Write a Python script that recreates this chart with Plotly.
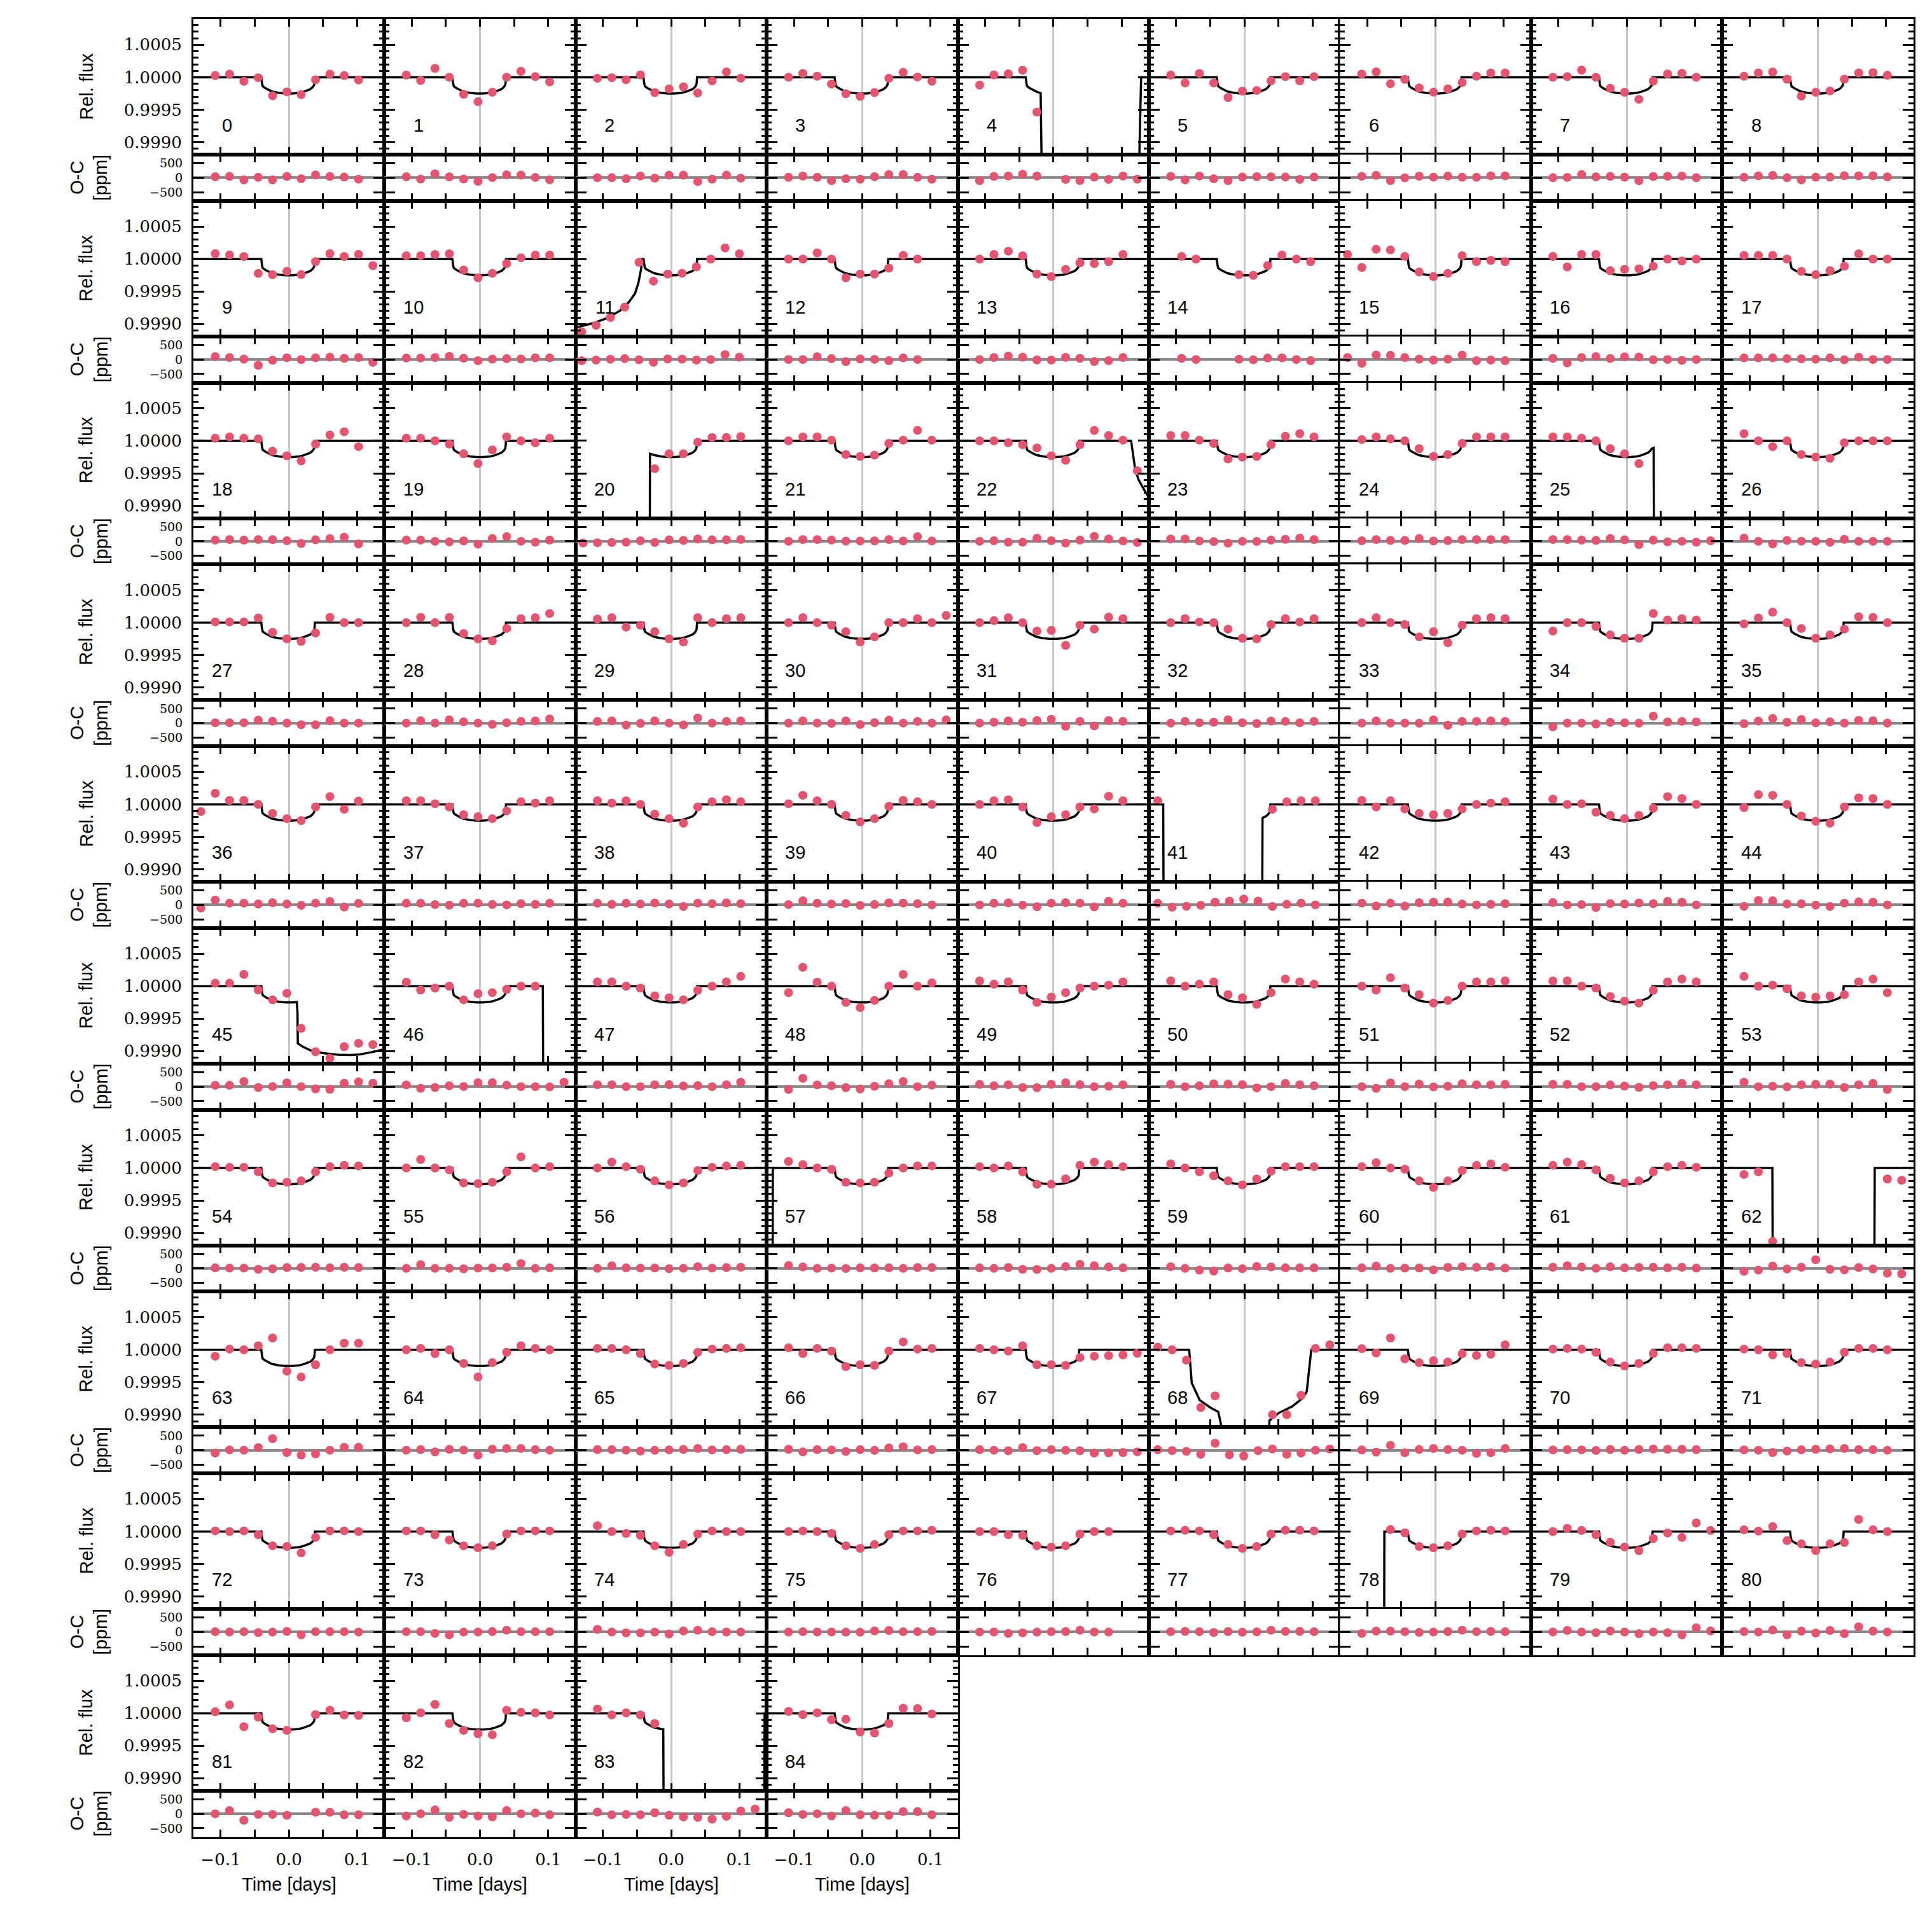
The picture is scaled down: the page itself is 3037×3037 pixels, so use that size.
import plotly.graph_objects as go

W = H = 3037
N_COLS = 9
PAGE_MARGIN = 8  # body margin of the html page shifts the figure

# ---- binned light-curve data (ppm relative to 1.0), 30-min bins ----
BIN_DT = 0.021
DEFAULT_START = -0.108
BIN_START = {11: -0.131, 14: -0.092, 15: -0.129, 20: -0.129, 36: -0.129,
             41: -0.127, 68: -0.127}

N = None
FLUX_PPM = [
    [26, 49, -62, -7, -284, -225, -268, -39, 49, 26, -42],
    [33, -49, 137, 0, -262, -376, -230, 0, 92, 10, -72],
    [-16, -7, -39, 36, -235, -180, -147, -242, -56, 82, -16],
    [0, 59, 16, -105, -252, -294, -235, -16, 75, 3, -62],
    [-121, 36, 52, 108, -536, N, N, N, N, N, N, N],
    [33, -88, 59, -88, -311, -213, -203, -56, 10, -56, 10],
    [49, 82, -100, -33, -164, -229, -180, -82, 16, 65, 65],
    [0, 10, 110, 0, -170, -230, -340, -60, 50, 60, 0],
    [16, 65, 80, -30, -290, -230, -210, -30, 65, 70, 30],
    # row 1
    [82, 62, 39, -222, -240, -190, -239, -40, 82, 39, 72, -101],
    [50, 50, 70, 80, -170, -290, -220, -70, 20, 60, 60],
    [-1120, -1020, -900, -740, -50, -340, -230, -220, -120, 0, 170, 80],
    [0, 0, 95, 0, -290, -230, -230, -140, 55, 0],
    [0, 70, 120, 50, -230, -270, -160, -60, -70, -40, 70],
    [40, 0, N, N, -240, -250, -100, 60, 0, -40],
    [70, -130, 150, 140, 40, -200, -270, -220, 50, -40, -20, -40],
    [40, -120, 70, 70, -180, -160, -150, -110, 0, -30, 0],
    [56, 56, 56, 0, -190, -240, -180, -110, 80, 0, 0],
    # row 2
    [40, 60, 40, 30, -160, -230, -310, -50, 90, 140, -90],
    [40, 40, 0, -50, -200, -350, -140, 60, 0, -30, 40],
    [N, N, N, N, N, -430, -200, -200, -20, 50, 50, 65],
    [0, 60, 60, 10, -210, -240, -220, -40, 10, 160, 10],
    [0, 0, -30, -60, -110, -230, -300, -60, 160, 80, 10, -460],
    [80, 80, 10, -40, -280, -250, -240, -60, 70, 110, 60],
    [20, 60, 30, 0, -120, -240, -210, -40, 60, 60, 60],
    [60, 60, 40, 0, -120, -200, -350, N, N, N, N, N],
    [110, 0, -90, 0, -210, -250, -270, -30, 0, 0, 0],
    # row 3
    [10, 10, 10, 70, -150, -250, -290, -160, 80, 0, 0],
    [0, 80, 0, 80, -170, -250, -280, -90, 60, 75, 140],
    [55, 75, -70, -40, -140, -250, -300, 75, 0, 60, 75],
    [0, 75, 0, -40, -140, -300, -220, 0, 0, 60, 0, 110],
    [0, 30, 75, 0, -130, -120, -350, -40, -100, 85, 60],
    [0, 60, 10, 0, -100, -240, -250, -30, 60, 10, 60],
    [0, 75, 0, -30, -220, -140, -310, -40, 60, 75, 60],
    [-130, 0, 0, -60, -190, -240, -240, 140, 40, 60, 40],
    [-20, 70, 160, 0, -90, -240, -190, -100, 90, 80, 0],
    # row 4
    [-110, 170, 60, 60, 0, -140, -220, -250, -40, 120, -75, 50],
    [55, 55, 10, -40, -160, -190, -220, -100, 40, 20, 55],
    [55, 20, 55, 0, -150, -220, -290, -40, 40, 70, 40],
    [10, 140, 55, 0, -170, -270, -220, -30, 60, 40, 0],
    [0, 55, 70, -40, -280, -190, -160, -40, -70, 125, 55],
    [55, N, N, N, N, N, N, N, -75, 40, 55, 55],
    [60, -40, 55, -70, -140, -160, -140, -70, 0, 20, 40],
    [80, 0, 10, -120, -170, -220, -170, -60, 120, 90, 0],
    [-50, 150, 140, 0, -180, -260, -290, -40, 100, 90, 0],
    # row 5
    [45, 45, 180, -60, -210, -110, -650, -1010, -1110, -930, -880, -900],
    [60, -60, -30, 0, -210, -115, -100, -50, 0, 0, N, N],
    [65, 65, 0, -30, -150, -180, -210, -65, 0, 65, 150],
    [-100, 290, 60, 0, -250, -330, -220, 0, 180, 0, 50],
    [80, 30, 65, -60, -250, -170, -100, -30, 0, 15, 65],
    [80, 0, 30, 65, -130, -180, -280, -100, 110, 65, 30],
    [0, -60, 130, -30, -130, -260, -220, 0, 65, 65, 80],
    [80, 80, 0, -30, -160, -230, -260, -65, 65, 110, 65],
    [150, 0, 15, -40, -150, -170, -150, -130, 65, 110, -100],
    # row 6
    [20, 10, 10, -60, -230, -220, -200, -60, 20, 40, 30],
    [0, 130, 0, -30, -230, -240, -220, -60, 170, 0, 20],
    [0, 90, 20, -20, -200, -260, -230, -40, 10, 30, 40],
    [100, 50, 0, -20, -220, -230, -220, -80, 0, 30, 30],
    [20, 0, 30, -60, -250, -250, -170, 40, 90, 50, 20],
    [60, 0, -60, -120, -200, -260, -170, -50, 20, 20, 20],
    [20, 80, 0, -20, -200, -300, -200, -40, 40, 60, 10],
    [40, 90, 50, -30, -160, -230, -200, -60, 20, 40, 10],
    [-100, -60, -1130, N, N, N, N, N, N, N, -170, -190],
    # row 7
    [-100, 10, 0, 60, 180, -330, -420, -230, 0, 100, 100],
    [0, 20, -60, 0, -210, -420, -200, -40, 60, 20, 0],
    [20, 20, 0, -60, -220, -240, -210, -40, 10, 20, 30],
    [30, -60, 20, -20, -260, -230, -240, -20, 120, 10, 20],
    [20, 0, -20, 60, -230, -230, -240, -120, -100, -90, -80, -55],
    [40, 0, -160, -890, -710, N, N, N, -1000, -1000, -700, 20, 75],
    [16, -50, 180, -140, -200, -170, -190, -62, -88, -69, 75],
    [10, 20, 10, -40, -190, -250, -210, -60, 30, 30, 20],
    [10, 0, -80, -60, -200, -220, -190, -40, 20, 20, 0],
    # row 8
    [10, 0, 10, -50, -220, -230, -330, -90, 10, 10, 0],
    [10, 10, -50, -130, -220, -250, -220, -40, 10, 10, 10],
    [90, 0, -30, -60, -220, -320, -200, -40, 10, 0, 0],
    [0, 10, 0, -30, -220, -260, -200, -50, 10, 10, 20],
    [0, 0, -50, -60, -220, -240, -220, -40, 0, 0],
    [10, 20, 10, -50, -200, -260, -230, -40, 20, 20, 10],
    [N, N, 30, -20, -230, -250, -220, -40, 10, 20, 10],
    [0, 49, 16, -49, -164, -239, -294, -108, -23, -92, 131, 16],
    [26, 7, 75, -141, -190, -294, -190, -170, 186, 26, 0],
    # row 9
    [23, 128, -206, -59, -239, -262, N, -20, 46, -26, -33],
    [-69, 7, 137, -157, -262, -314, -330, 46, 13, 7, -26],
    [65, -26, 7, -26, -157, N, N, N, N, N, N, N],
    [29, -20, 7, -98, -92, -288, -304, -157, 78, 72, -10],
]

OC_PPM = [
    [37, 44, -74, 15, -74, 44, -37, 96, 44, 22, -52],
    [33, -49, 137, 30, -47, -126, 5, 100, 92, 10, -72],
    [0, 0, -37, 59, -15, 89, 89, -133, -52, 89, -15],
    [15, 59, 15, -104, -37, -52, 37, 111, 111, 15, -52],
    [-104, 44, 59, 118, 59, N, -59, -96, 22, -59, 59, -52],
    [44, -74, 59, -37, -104, 22, 37, 30, 22, -59, 22],
    [49, 82, -100, -3, 51, 21, 55, 18, 16, 65, 65],
    [0, 10, 110, 30, 45, 20, -105, 40, 50, 60, 0],
    [16, 65, 80, 0, -75, 20, 25, 70, 65, 70, 30],
    # row 1
    [100, 70, 15, -200, -25, 60, -4, 60, 80, 40, 70, -100],
    [50, 50, 70, 110, 45, -40, 15, 30, 20, 60, 60],
    [-40, -20, 10, 30, -10, -100, 20, 15, -20, 0, 170, 80],
    [0, 0, 95, 30, -75, 20, 5, -40, 55, 0],
    [0, 70, 120, 80, -15, -20, 75, 40, -70, -40, 70],
    [40, 0, N, N, 10, -10, 50, 60, 0, -40],
    [70, -130, 150, 140, 70, 15, -20, 15, 150, -40, -20, -40],
    [40, -120, 70, 100, 35, 90, 85, -10, 0, -30, 0],
    [56, 56, 56, 30, 25, 10, 55, -10, 80, 0, 0],
    # row 2
    [40, 60, 40, 60, 55, 20, -75, 50, 90, 140, -90],
    [40, 40, 0, -20, 15, -100, 95, 160, 0, -30, 40],
    [-60, -50, -40, -30, 20, -40, 50, 30, 80, 50, 50, 65],
    [0, 60, 60, 40, 5, 10, 15, 60, 10, 160, 10],
    [0, 20, -30, -30, 105, 20, -65, 40, 170, 80, 10, -40],
    [80, 80, 10, -10, -65, 0, -5, 40, 70, 110, 60],
    [20, 60, 30, 30, 95, 10, 25, 60, 60, 60, 60],
    [60, 60, 40, 30, 95, 50, -115, 40, -20, 0, -30, 20],
    [110, 0, -90, 30, 5, 0, -35, 70, 0, 0, 0],
    # row 3
    [10, 10, 10, 100, 65, 0, -55, -60, 80, 0, 0],
    [0, 80, 0, 110, 45, 0, -45, 10, 60, 75, 140],
    [55, 75, -70, -10, 75, 0, -65, 175, 0, 60, 75],
    [0, 75, 0, -10, 75, -50, 15, 100, 0, 60, 0, 110],
    [0, 30, 75, 30, 85, 130, -115, 60, -100, 85, 60],
    [0, 60, 10, 30, 115, 10, -15, 70, 60, 10, 60],
    [0, 75, 0, 0, -5, 110, -75, 60, 60, 75, 60],
    [-130, 0, 0, -30, 25, 10, -5, 240, 40, 60, 40],
    [-20, 70, 160, 30, 125, 10, 45, 0, 90, 80, 0],
    # row 4
    [-110, 170, 60, 60, 30, 75, 30, -15, 60, 120, -75, 50],
    [55, 55, 10, -10, 55, 60, 15, 0, 40, 20, 55],
    [55, 20, 55, 30, 65, 30, -55, 60, 40, 70, 40],
    [10, 140, 55, 30, 45, -20, 15, 70, 60, 40, 0],
    [0, 55, 70, -10, -65, 60, 75, 60, -70, 125, 55],
    [55, -80, -50, -15, 90, 130, 200, 130, -55, 20, 60, 0],
    [60, -40, 55, -40, 75, 90, 95, 30, 0, 20, 40],
    [80, 0, 10, -90, 45, 30, 65, 40, 120, 90, 0],
    [-50, 150, 140, 30, 35, -10, -55, 60, 100, 90, 0],
    # row 5
    [45, 45, 180, -30, 5, 130, 0, -80, -90, 120, 165, 120],
    [60, -60, -30, 30, 5, 135, 135, 50, 0, 0, -10, 150],
    [65, 65, 0, 0, 65, 70, 25, 35, 0, 65, 150],
    [-100, 290, 60, 30, -35, -80, 15, 100, 180, 0, 50],
    [80, 30, 65, -30, -35, 80, 135, 70, 0, 15, 65],
    [80, 0, 30, 95, 85, 70, -45, 0, 110, 65, 30],
    [0, -60, 130, 0, 85, -10, 15, 100, 65, 65, 80],
    [80, 80, 0, 0, 55, 20, -25, 35, 65, 110, 65],
    [150, 0, 15, -10, 65, 80, 85, -30, 65, 110, -100],
    # row 6
    [20, 10, 10, -30, -15, 30, 35, 40, 20, 40, 30],
    [0, 130, 0, 0, -15, 10, 15, 40, 170, 0, 20],
    [0, 90, 20, 10, 15, -10, 5, 60, 10, 30, 40],
    [100, 50, 0, 10, -5, 20, 15, 20, 0, 30, 30],
    [20, 0, 30, -30, -35, 0, 65, 140, 90, 50, 20],
    [60, 0, -60, -90, 15, -10, 65, 50, 20, 20, 20],
    [20, 80, 0, 10, 15, -50, 35, 60, 40, 60, 10],
    [40, 90, 50, 0, 55, 20, 35, 40, 20, 40, 10],
    [-100, -60, 80, -20, 40, 300, -30, -50, 30, -20, -170, -190],
    # row 7
    [-100, 10, 0, 90, 400, -80, -170, -130, 0, 100, 100],
    [0, 20, -60, 30, 5, -170, 35, 60, 60, 20, 0],
    [20, 20, 0, -30, -5, 10, 25, 60, 10, 20, 30],
    [30, -60, 20, 10, -45, 20, -5, 80, 120, 10, 20],
    [20, 0, -20, 90, -15, 20, -5, -20, -100, -90, -80, -55],
    [20, -15, -40, -140, 240, -160, -200, -15, 40, -140, -100, 0, 40],
    [7, -67, 170, -89, 22, 59, 22, 0, -111, -89, 59],
    [10, 20, 10, -10, 25, 0, 25, 40, 30, 30, 20],
    [10, 0, -80, -30, 15, 30, 45, 60, 20, 20, 0],
    # row 8
    [10, 0, 10, -20, -5, 20, -95, 10, 10, 10, 0],
    [10, 10, -50, -100, -5, 0, 15, 60, 10, 10, 10],
    [90, 0, -30, -30, -5, -70, 35, 60, 10, 0, 0],
    [0, 10, 0, 0, -5, -10, 35, 50, 10, 10, 20],
    [0, 0, -50, -30, -5, 10, 15, 60, 0, 0],
    [10, 20, 10, -20, 15, -10, 5, 60, 20, 20, 10],
    [-50, 30, 30, 10, -15, 0, 15, 60, 10, 20, 10],
    [0, 52, 0, -22, 37, 0, -59, 0, -22, -96, 148, 37],
    [15, 0, 67, -96, 30, -37, 52, -59, 178, 30, 0],
    # row 9
    [0, 111, -222, -22, -22, -52, N, 52, 52, -37, -37],
    [-74, 0, 133, -126, -22, -74, -111, 111, 0, 22, -37],
    [59, -37, -22, -37, 37, -52, -111, -126, -185, -89, 96, 163],
    [37, -22, 0, -74, 111, -37, -52, -52, 74, 74, -37],
]

# ---- transit model (ppm relative to 1.0) ----
STD_T = [-0.14, -0.0405, -0.0395, -0.0385, -0.035, -0.03, -0.025, -0.015, -0.005,
         0.005, 0.015, 0.021, 0.026, 0.031, 0.0345, 0.0368, 0.0375, 0.038, 0.14]
STD_F = [0, 0, -90, -137, -165, -195, -219, -240, -250,
         -250, -240, -225, -208, -186, -155, -121, -80, 0, 0]

CUSTOM_MODELS = {
    4: ([-0.14, -0.0405, -0.0395, -0.0385, -0.035, -0.03, -0.025, -0.0186, -0.0163,
         -0.015, 0.125, 0.126, 0.1286, 0.14],
        [0, 0, -90, -137, -165, -195, -219, -245, -1200, -3000, -3000, -1200, 0, 0]),
    11: ([-0.14, -0.135, -0.115, -0.094, -0.075, -0.062, -0.053, -0.048, -0.044,
          -0.0425, -0.0405] + STD_T[2:],
         [-1060, -1040, -990, -910, -795, -664, -533, -370, -150, 0, 0] + STD_F[2:]),
    20: ([-0.14, -0.0315, -0.031] + STD_T[6:], [-3000, -3000, -200] + STD_F[6:]),
    22: (STD_T[:18] + [0.114, 0.117, 0.12, 0.125, 0.13, 0.135, 0.14],
         STD_F[:18] + [0, -250, -450, -600, -700, -790, -870]),
    25: (STD_T[:16] + [0.0385, 0.0395, 0.0405, 0.14],
         STD_F[:16] + [-115, -110, -3000, -3000]),
    41: ([-0.14, -0.119, -0.118, 0.0255, 0.0265] + STD_T[13:],
         [0, 0, -3000, -3000, -208] + STD_F[13:]),
    45: (STD_T[:10] + [0.0115, 0.0125, 0.013, 0.02, 0.032, 0.05, 0.072, 0.09, 0.104,
                       0.124, 0.14],
         STD_F[:10] + [-245, -400, -880, -930, -990, -1030, -1056, -1060, -1050,
                       -1010, -970]),
    46: (STD_T[:18] + [0.092, 0.093, 0.14], STD_F[:18] + [0, -3000, -3000]),
    57: ([-0.14, -0.1315, -0.131] + STD_T[1:], [-3000, -3000, 0] + STD_F[1:]),
    62: ([-0.14, -0.0665, -0.0655, 0.0825, 0.0835, 0.14], [0, 0, -3000, -3000, 0, 0]),
    68: ([-0.14, -0.081, -0.0772, -0.0656, -0.0501, -0.0385, -0.0346, -0.0288, 0.0345,
          0.0365, 0.039, 0.0506, 0.07, 0.0855, 0.0913, 0.0979, 0.14],
         [0, 0, -513, -775, -889, -955, -1135, -3000, -3000, -1090, -1070, -971, -873,
          -742, -644, 0, 0]),
    78: ([-0.14, -0.0755, -0.075] + STD_T[1:], [-3000, -3000, 0] + STD_F[1:]),
    83: (STD_T[:8] + [-0.0115, -0.0105, 0.1355, 0.137, 0.14],
         STD_F[:8] + [-245, -3000, -3000, 0, 0]),
    84: ([-0.14, -0.1388] + STD_T[1:], [-3000, 0] + STD_F[1:]),
}

X_TICKS = [-0.1, -0.05, 0.0, 0.05, 0.1]
X_TICKTEXT = ["\u22120.1", "", "0.0", "", "0.1"]
FLUX_TICKS = [0.999, 0.9995, 1.0, 1.0005]
FLUX_TICKTEXT = ["0.9990", "0.9995", "1.0000", "1.0005"]
OC_TICKS = [-500, 0, 500]
OC_TICKTEXT = ["\u2212500", "0", "500"]

# ---- layout geometry (pixels of the photographed page) ----
LEFT0, COL_W = 304 - PAGE_MARGIN, 300.4
TOP0, ROW_H, FLUX_H = 30 - PAGE_MARGIN, 285.75, 213
FLUX_RANGE = [0.99881, 1.000895]
OC_RANGE = [-800, 800]

DOT = "#e4546f"
SERIF = "DejaVu Serif"
SANS = "Liberation Sans"


def px_x(v):
    return v / W


def px_y(v):
    return 1 - v / H


def ax_name(kind, i):
    return kind + ("axis" if i == 1 else "axis%d" % i)


def ax_ref(kind, i):
    return kind if i == 1 else "%s%d" % (kind, i)


tick_font = dict(family=SERIF, size=26, color="black")
# O-C ticks sit only ~23 px apart, keep their label boxes from colliding
oc_tick_font = dict(family=SERIF, size=19, color="black")
common_x = dict(range=[-0.14, 0.14], showline=True, linecolor="black", linewidth=3,
                mirror="allticks", ticks="inside", tickvals=X_TICKS, ticktext=X_TICKTEXT,
                ticklen=12, tickwidth=2.5, tickcolor="black", showgrid=False,
                tickfont=tick_font, ticklabelstandoff=10)
common_y = dict(showline=True, linecolor="black", linewidth=3, mirror="allticks",
                ticks="inside", ticklen=17, tickwidth=3, tickcolor="black",
                showgrid=False, tickfont=tick_font, ticklabelstandoff=10)

minor_flux = [round(0.9989 + 0.0001 * k, 4) for k in range(20)]

fig = go.Figure()
layout = {}
annotations = []
n_panels = len(FLUX_PPM)

for p in range(n_panels):
    r, c = divmod(p, N_COLS)
    left = LEFT0 + c * COL_W
    top = TOP0 + r * ROW_H
    mid = top + FLUX_H
    bot = top + ROW_H
    fi, oi = 2 * p + 1, 2 * p + 2
    xdom = [px_x(left), px_x(left + COL_W)]

    layout[ax_name("x", fi)] = dict(common_x, domain=xdom, anchor=ax_ref("y", fi),
                                    showticklabels=False, zeroline=True,
                                    zerolinecolor="#c8c8c8", zerolinewidth=2.5)
    layout[ax_name("y", fi)] = dict(common_y, domain=[px_y(mid), px_y(top)],
                                    anchor=ax_ref("x", fi), range=FLUX_RANGE,
                                    tickvals=FLUX_TICKS, ticktext=FLUX_TICKTEXT,
                                    showticklabels=(c == 0), zeroline=False,
                                    minor=dict(ticks="inside", tickvals=minor_flux,
                                               ticklen=8, tickwidth=2.5,
                                               tickcolor="black"))
    layout[ax_name("x", oi)] = dict(common_x, domain=xdom, anchor=ax_ref("y", oi),
                                    showticklabels=(p >= n_panels - 4), zeroline=False)
    layout[ax_name("y", oi)] = dict(common_y, domain=[px_y(bot), px_y(mid)],
                                    anchor=ax_ref("x", oi), range=OC_RANGE,
                                    tickvals=OC_TICKS, ticktext=OC_TICKTEXT,
                                    tickfont=oc_tick_font,
                                    showticklabels=(c == 0), zeroline=True,
                                    zerolinecolor="#888888", zerolinewidth=4)

    # model curve
    mt, mf = CUSTOM_MODELS.get(p, (STD_T, STD_F))
    fig.add_trace(go.Scatter(x=mt, y=[1 + v * 1e-6 for v in mf], mode="lines",
                             line=dict(color="black", width=3.5),
                             xaxis=ax_ref("x", fi), yaxis=ax_ref("y", fi),
                             hoverinfo="skip"))

    start = BIN_START.get(p, DEFAULT_START)
    flux = FLUX_PPM[p]
    oc = OC_PPM[p]
    tf = [start + k * BIN_DT for k, v in enumerate(flux) if v is not None]
    vf = [1 + v * 1e-6 for v in flux if v is not None]
    to = [start + k * BIN_DT for k, v in enumerate(oc) if v is not None]
    vo = [v for v in oc if v is not None]
    fig.add_trace(go.Scatter(x=tf, y=vf, mode="markers",
                             marker=dict(color=DOT, size=14),
                             xaxis=ax_ref("x", fi), yaxis=ax_ref("y", fi)))
    fig.add_trace(go.Scatter(x=to, y=vo, mode="markers",
                             marker=dict(color=DOT, size=14),
                             xaxis=ax_ref("x", oi), yaxis=ax_ref("y", oi)))

    annotations.append(dict(text=str(p), x=-0.081, y=0.99926,
                            xref=ax_ref("x", fi), yref=ax_ref("y", fi),
                            xanchor="right", yanchor="middle", showarrow=False,
                            font=dict(family=SANS, size=29, color="black")))

    if c == 0:
        annotations.append(dict(text="Rel. flux", textangle=-90,
                                x=px_x(135 - PAGE_MARGIN), y=px_y(top + FLUX_H / 2),
                                xref="paper", yref="paper", showarrow=False,
                                xanchor="center", yanchor="middle",
                                font=dict(family=SANS, size=29, color="black")))
        annotations.append(dict(text="O-C<br>[ppm]", textangle=-90,
                                x=px_x(140 - PAGE_MARGIN),
                                y=px_y(mid + (ROW_H - FLUX_H) / 2),
                                xref="paper", yref="paper", showarrow=False,
                                xanchor="center", yanchor="middle",
                                font=dict(family=SANS, size=29, color="black")))
    if p >= n_panels - 4:
        annotations.append(dict(text="Time [days]", x=px_x(left + COL_W / 2),
                                y=px_y(2962 - PAGE_MARGIN), xref="paper", yref="paper",
                                showarrow=False, xanchor="center", yanchor="middle",
                                font=dict(family=SANS, size=29, color="black")))

fig.update_layout(**layout)
fig.update_layout(width=W, height=H, autosize=False, showlegend=False,
                  margin=dict(l=0, r=0, t=0, b=0),
                  paper_bgcolor="white", plot_bgcolor="white",
                  annotations=annotations)

fig.write_html("out.html")
